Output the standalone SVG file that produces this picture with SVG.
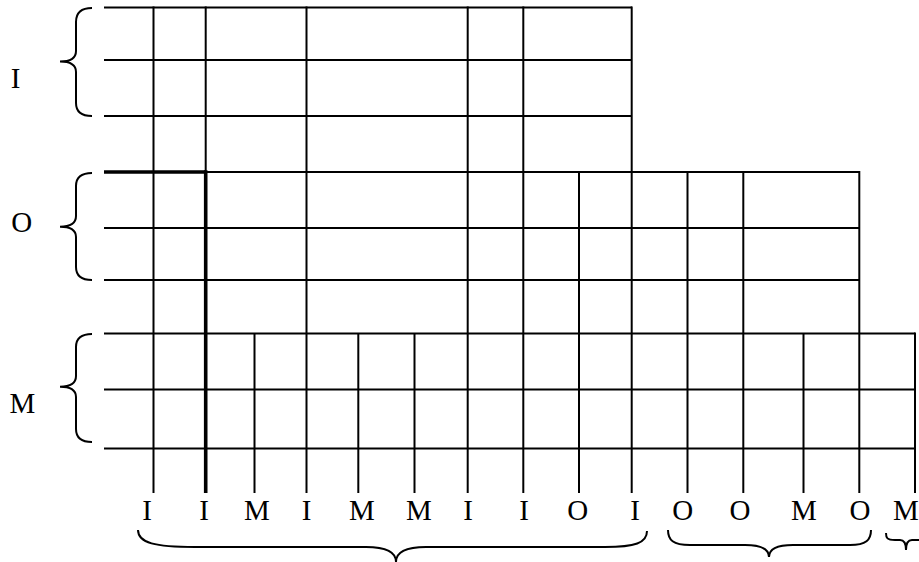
<svg xmlns="http://www.w3.org/2000/svg" width="919" height="562" viewBox="0 0 919 562">
<style>
.g{stroke:#000;stroke-width:2;fill:none}
.k{stroke:#000;stroke-width:3.6;fill:none}
.b{stroke:#000;stroke-width:2;fill:none;stroke-linejoin:miter}
text{font-family:"Liberation Serif","Times New Roman",serif;font-size:29px;fill:#000;text-anchor:middle}
</style>
<rect width="919" height="562" fill="#fff"/>
<g id="grid">
<g id="rows-I">
<line class="g" x1="104" y1="7.5" x2="632" y2="7.5"/>
<line class="g" x1="104" y1="60" x2="632" y2="60"/>
<line class="g" x1="104" y1="116" x2="632" y2="116"/>
</g>
<g id="rows-O">
<line class="k" x1="104" y1="172" x2="205.7" y2="172"/>
<line class="g" x1="205.7" y1="172" x2="860" y2="172"/>
<line class="g" x1="104" y1="228" x2="860" y2="228"/>
<line class="g" x1="104" y1="280" x2="860" y2="280"/>
</g>
<g id="rows-M">
<line class="g" x1="104" y1="333.5" x2="915" y2="333.5"/>
<line class="g" x1="104" y1="389.5" x2="915" y2="389.5"/>
<line class="g" x1="104" y1="448.5" x2="915" y2="448.5"/>
</g>
<g id="columns">
<line class="g" x1="153.5" y1="6.5" x2="153.5" y2="493"/>
<line class="g" x1="205.7" y1="6.5" x2="205.7" y2="172"/>
<line class="k" x1="205.7" y1="170.2" x2="205.7" y2="493"/>
<line class="g" x1="254.5" y1="333.5" x2="254.5" y2="493"/>
<line class="g" x1="306.5" y1="6.5" x2="306.5" y2="493"/>
<line class="g" x1="358.3" y1="333.5" x2="358.3" y2="493"/>
<line class="g" x1="414.5" y1="333.5" x2="414.5" y2="493"/>
<line class="g" x1="467.7" y1="6.5" x2="467.7" y2="493"/>
<line class="g" x1="523.3" y1="6.5" x2="523.3" y2="493"/>
<line class="g" x1="579" y1="172" x2="579" y2="493"/>
<line class="g" x1="631.7" y1="6.5" x2="631.7" y2="493"/>
<line class="g" x1="687.5" y1="171" x2="687.5" y2="493"/>
<line class="g" x1="743.3" y1="171" x2="743.3" y2="493"/>
<line class="g" x1="803.5" y1="333.5" x2="803.5" y2="493"/>
<line class="g" x1="859.3" y1="171" x2="859.3" y2="493"/>
<line class="g" x1="915" y1="332.5" x2="915" y2="493"/>
</g>
</g>
<g id="left-braces">
<path class="b" d="M92,8 Q76,8 76,22 L76,51 Q76,61.5 60,61.5 Q76,61.5 76,72 L76,103 Q76,116 92,116"/>
<path class="b" d="M92,173 Q76,173 76,186 L76,216 Q76,226.7 60,226.7 Q76,226.7 76,237 L76,267 Q76,280 92,280"/>
<path class="b" d="M92,334 Q76,334 76,347 L76,376 Q76,386.7 60,386.7 Q76,386.7 76,397 L76,429 Q76,442 92,442"/>
</g>
<g id="left-labels">
<text x="15.5" y="87.5">I</text>
<text x="21.7" y="232">O</text>
<text x="22.5" y="413">M</text>
</g>
<g id="bottom-labels">
<text x="147" y="520">I</text>
<text x="204" y="520">I</text>
<text x="257" y="520">M</text>
<text x="306.7" y="520">I</text>
<text x="362" y="520">M</text>
<text x="419" y="520">M</text>
<text x="468" y="520">I</text>
<text x="524" y="520">I</text>
<text x="577.7" y="520">O</text>
<text x="635" y="520">I</text>
<text x="682.7" y="520">O</text>
<text x="740" y="520">O</text>
<text x="804" y="520">M</text>
<text x="860" y="520">O</text>
<text x="906" y="520">M</text>
</g>
<g id="bottom-braces">
<path class="b" d="M138,530 C138,543 155,547 195,547 L366,547 C388,547 396,553 396,562 C396,553 404,547 426,547 L605,547 C635,547 647,543 647,531"/>
<path class="b" d="M668,530 C668,540 673,545 690,545 L745,545 C762,545 769,549 769,557 C769,549 776,545 793,545 L850,545 C866,545 871,540 871,530"/>
<path class="b" d="M886,533 C886,538 887,540 895,540 L900,540 C904,540 906,543 906,550 C906,543 908,540 912,540 L919,540"/>
</g>
</svg>
